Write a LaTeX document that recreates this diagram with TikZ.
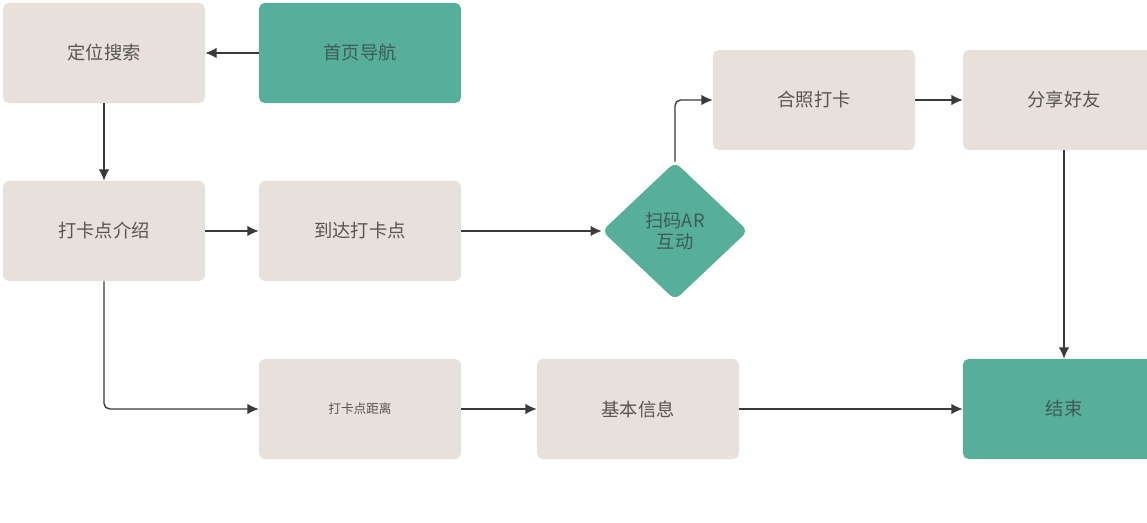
\documentclass[tikz,border=0pt]{standalone}
\usepackage{fontspec}
\newfontfamily\cjk{Noto Sans CJK SC}
\usetikzlibrary{arrows.meta,shapes.geometric}
\definecolor{boxbeige}{HTML}{E8E0DA}
\definecolor{boxteal}{HTML}{56AE9B}
\definecolor{txtgray}{HTML}{555555}
\definecolor{txtdark}{HTML}{3E5C55}
\definecolor{linegray}{HTML}{3A3A3A}

\begin{document}
\begin{tikzpicture}[x=0.025cm,y=-0.025cm,>=Latex,
  stepbox/.style={rounded corners=4pt,fill=boxbeige,minimum width=5.05cm,minimum height=2.5cm,align=center,font=\cjk\fontsize{13}{15}\selectfont,text=txtgray,inner sep=2pt},
  tealbox/.style={stepbox,fill=boxteal,text=txtdark},
  flow/.style={draw=linegray,line width=1pt,-{Latex[length=2.8mm,width=2.6mm]}}]
\path[use as bounding box,clip] (0,0) rectangle (1147,523);
\node[stepbox] (search) at (104,53) {定位搜索};
\node[tealbox] (home) at (360,53) {首页导航};
\node[stepbox] (intro) at (104,231) {打卡点介绍};
\node[stepbox] (arrive) at (360,231) {到达打卡点};
\node[diamond,rounded corners=5pt,fill=boxteal,text=txtdark,minimum width=3.65cm,minimum height=3.45cm,inner sep=0pt,align=center,font=\cjk\fontsize{13}{15.5}\selectfont] (scan) at (675,231) {扫码AR\\互动};
\node[stepbox] (photo) at (814,100) {合照打卡};
\node[stepbox] (share) at (1064,100) {分享好友};
\node[stepbox,font=\cjk\fontsize{9}{10}\selectfont] (dist) at (360,409) {打卡点距离};
\node[stepbox] (info) at (638,409) {基本信息};
\node[tealbox] (finish) at (1064,409) {结束};
\draw[flow] (home.west)--(search.east);
\draw[flow] (search.south)--(intro.north);
\draw[flow] (intro.east)--(arrive.west);
\draw[flow] (arrive.east)--(scan.west);
\draw[flow,rounded corners=4pt] (scan.north) |- (photo.west);
\draw[flow] (photo.east)--(share.west);
\draw[flow] (share.south)--(finish.north);
\draw[flow,rounded corners=4pt] (intro.south) |- (dist.west);
\draw[flow] (dist.east)--(info.west);
\draw[flow] (info.east)--(finish.west);
\end{tikzpicture}
\end{document}
